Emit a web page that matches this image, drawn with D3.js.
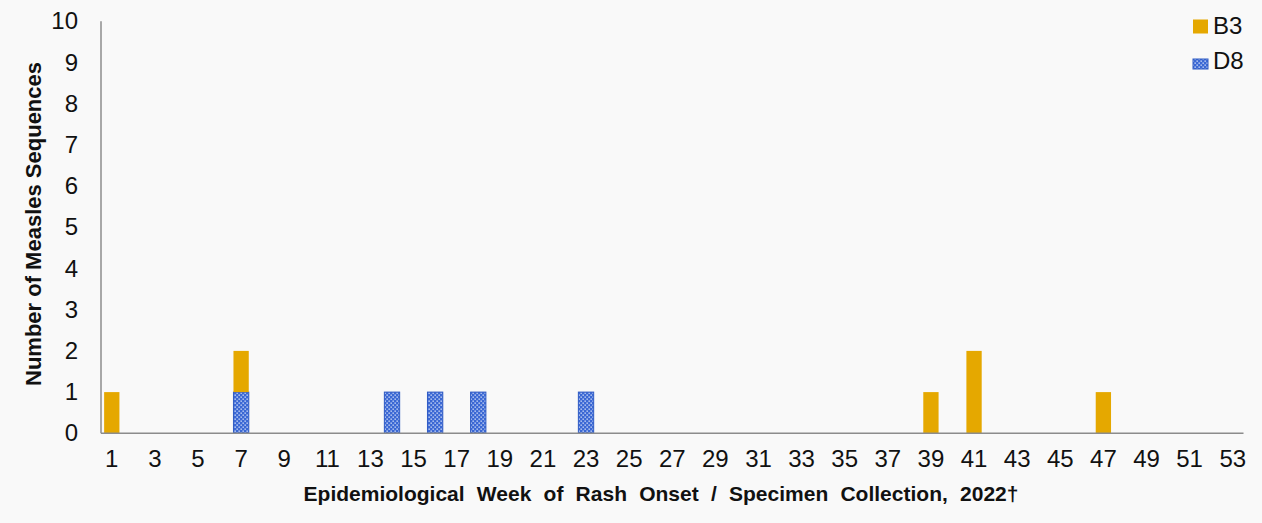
<!DOCTYPE html>
<html>
<head>
<meta charset="utf-8">
<script src="https://cdn.jsdelivr.net/npm/d3@7"></script>
<style>
  html, body { margin: 0; padding: 0; background: #f9f9f9; }
  svg { display: block; font-family: "Liberation Sans", Arial, sans-serif; }
</style>
</head>
<body>
<svg id="chart" width="1262" height="523"></svg>
<script>
const weeks = d3.range(1, 54);
const b3Values = [1,0,0,0,0,0,1,0,0,0, 0,0,0,0,0,0,0,0,0,0, 0,0,0,0,0,0,0,0,0,0, 0,0,0,0,0,0,0,0,1,0, 2,0,0,0,0,0,1,0,0,0, 0,0,0];
const d8Values = [0,0,0,0,0,0,1,0,0,0, 0,0,0,1,0,1,0,1,0,0, 0,0,1,0,0,0,0,0,0,0, 0,0,0,0,0,0,0,0,0,0, 0,0,0,0,0,0,0,0,0,0, 0,0,0];
const seriesNames = ["D8", "B3"];
const yTicks = d3.range(0, 11);
const xTickLabels = weeks.filter(w => w % 2 === 1);
const xTitle = "Epidemiological Week of Rash Onset / Specimen Collection, 2022\u2020";
const yTitle = "Number of Measles Sequences";

const rows = weeks.map((w, i) => ({ week: w, D8: d8Values[i], B3: b3Values[i] }));
const stacked = d3.stack().keys(seriesNames)(rows);

const svg = d3.select("#chart");
const plotLeft = 101, plotRight = 1243.5, plotTop = 21.3, plotBottom = 433.3;

svg.append("rect").attr("width", 1262).attr("height", 523).attr("fill", "#f9f9f9");

const defs = svg.append("defs");
const pat = defs.append("pattern").attr("id", "dots").attr("patternUnits", "userSpaceOnUse")
  .attr("width", 4).attr("height", 4);
pat.append("rect").attr("width", 4).attr("height", 4).attr("fill", "#3b68d4");
pat.append("rect").attr("x", 0.5).attr("y", 0.5).attr("width", 1.3).attr("height", 1.3).attr("fill", "#dfe8fb");
pat.append("rect").attr("x", 2.5).attr("y", 2.5).attr("width", 1.3).attr("height", 1.3).attr("fill", "#dfe8fb");

const x = d3.scaleBand().domain(weeks).range([plotLeft, plotRight]).paddingInner(0.29).paddingOuter(0.145);
const y = d3.scaleLinear().domain([0, 10]).range([plotBottom, plotTop]);

const fills = { B3: "#e5a800", D8: "url(#dots)" };
const strokes = { B3: "none", D8: "#2f5bc4" };

svg.append("g").selectAll("g").data(stacked).join("g")
  .attr("fill", d => fills[d.key])
  .attr("stroke", d => strokes[d.key])
  .attr("stroke-width", 1)
  .selectAll("rect").data(d => d.filter(p => p[1] - p[0] > 0)).join("rect")
  .attr("x", d => x(d.data.week))
  .attr("width", x.bandwidth())
  .attr("y", d => y(d[1]))
  .attr("height", d => y(d[0]) - y(d[1]));

// Axes
const xAxis = d3.axisBottom(x).tickValues(xTickLabels).tickSize(0).tickPadding(17);
const gx = svg.append("g").attr("transform", `translate(0,${plotBottom})`).call(xAxis);
gx.select(".domain").attr("d", `M${plotLeft},0H${plotRight}`).attr("stroke", "#8c8c8c").attr("stroke-width", 1.5);
gx.selectAll("text").attr("font-size", 24).attr("fill", "#111").attr("font-family", "Liberation Sans, Arial, sans-serif");

const yAxis = d3.axisLeft(y).tickValues(yTicks).tickSize(0).tickPadding(23);
const gy = svg.append("g").attr("transform", `translate(${plotLeft},0)`).call(yAxis);
gy.select(".domain").attr("d", `M0,${plotTop}V${plotBottom}`).attr("stroke", "#8c8c8c").attr("stroke-width", 1.5);
gy.selectAll("text").attr("font-size", 24).attr("fill", "#111").attr("font-family", "Liberation Sans, Arial, sans-serif");

// Titles
svg.append("text").attr("x", 661).attr("y", 501).attr("text-anchor", "middle")
  .attr("font-size", 21).attr("font-weight", "bold").attr("fill", "#111")
  .attr("word-spacing", 6.4).text(xTitle);
svg.append("text").attr("transform", "translate(41,224) rotate(-90)").attr("text-anchor", "middle")
  .attr("font-size", 22).attr("font-weight", "bold").attr("fill", "#111").text(yTitle);

// Legend
const legend = [
  { name: "B3", fill: fills.B3, stroke: "none", y: 19.5, h: 14, ty: 34 },
  { name: "D8", fill: fills.D8, stroke: strokes.D8, y: 59, h: 10, ty: 69 }
];
const lg = svg.append("g").selectAll("g").data(legend).join("g");
lg.append("rect").attr("x", 1193).attr("y", d => d.y).attr("width", 15).attr("height", d => d.h)
  .attr("fill", d => d.fill).attr("stroke", d => d.stroke);
lg.append("text").attr("x", 1213).attr("y", d => d.ty).attr("font-size", 24).attr("fill", "#111").text(d => d.name);
</script>
</body>
</html>
